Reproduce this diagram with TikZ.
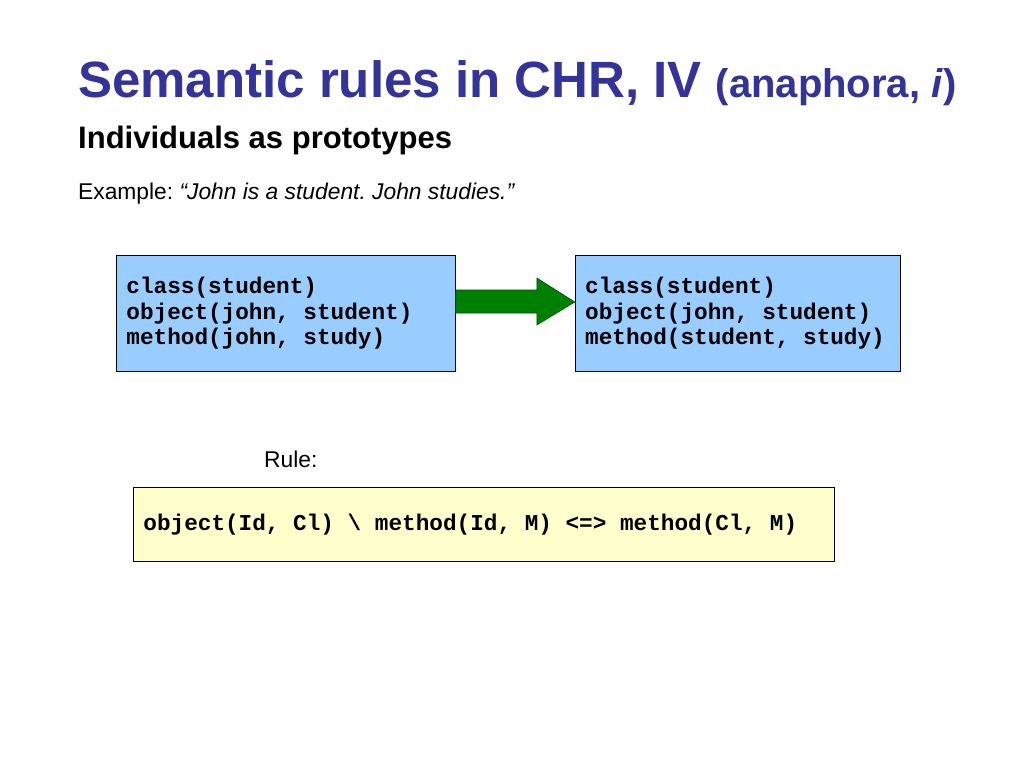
\documentclass[tikz,border=0pt]{standalone}
\usepackage{fontspec}
\setmainfont{Liberation Sans}
\setmonofont{Liberation Mono}
\usetikzlibrary{calc, positioning}
\frenchspacing

\definecolor{titleblue}{HTML}{333399}
\definecolor{factblue}{HTML}{99CCFF}
\definecolor{rulecream}{HTML}{FFFFCC}
\definecolor{arrowgreen}{HTML}{008000}

\begin{document}
\begin{tikzpicture}[x=1pt, y=-1pt,
	code/.style={font=\ttfamily\bfseries\fontsize{22.7}{25.5}\selectfont, align=flush left},
	factbox/.style={code, draw=black, line width=0.8pt, fill=factblue, inner xsep=10pt, minimum height=116pt},
	plaintext/.style={anchor=base west, inner sep=0pt, font=\fontsize{22.8}{27}\selectfont}]
	\useasboundingbox[fill=white] (0,0) rectangle (1024,768);
	
	% Define nodes (headings)
	\node (title) [anchor=base west, inner sep=0pt, text=titleblue, font=\bfseries] at (78,97)
		{{\fontsize{51}{60}\selectfont Semantic rules in CHR, IV }{\fontsize{40}{48}\selectfont (anaphora, \textit{i})}};
	\node (sub) [anchor=base west, inner sep=0pt, font=\bfseries\fontsize{31}{36}\selectfont] at (78,148) {Individuals as prototypes};
	\node (example) [plaintext] at (78,199) {Example: \textit{“John is a student. John studies.”}};
	
	% Define nodes (fact stores)
	\node (L) [factbox, anchor=north west, text width=319pt] at (116,255)
		{class(student)\\object(john, student)\\method(john, study)};
	\node (R) [factbox, text width=305pt, right=119pt of L]
		{class(student)\\object(john, student)\\method(student, study)};
	
	% Define nodes (rule)
	\node (rulehead) [plaintext] at (264,467) {Rule:};
	\node (rule) [code, draw=black, line width=0.8pt, fill=rulecream, anchor=north west, inner xsep=10pt,
		text width=681pt, minimum height=74pt] at (133,487)
		{object(Id, Cl) \textbackslash{} method(Id, M) <=> method(Cl, M)};
	
	% Draw connection
	\draw[fill=arrowgreen, draw=arrowgreen!60!black, line width=0.6pt]
		($(L.north east)+(0,35)$) -- ++(81,0) -- ++(0,-12) -- ($(R.north west)+(0,47)$)
		-- ($(L.north east)+(81,70)$) -- ++(0,-12) -- ($(L.north east)+(0,58)$) -- cycle;
\end{tikzpicture}
\end{document}
